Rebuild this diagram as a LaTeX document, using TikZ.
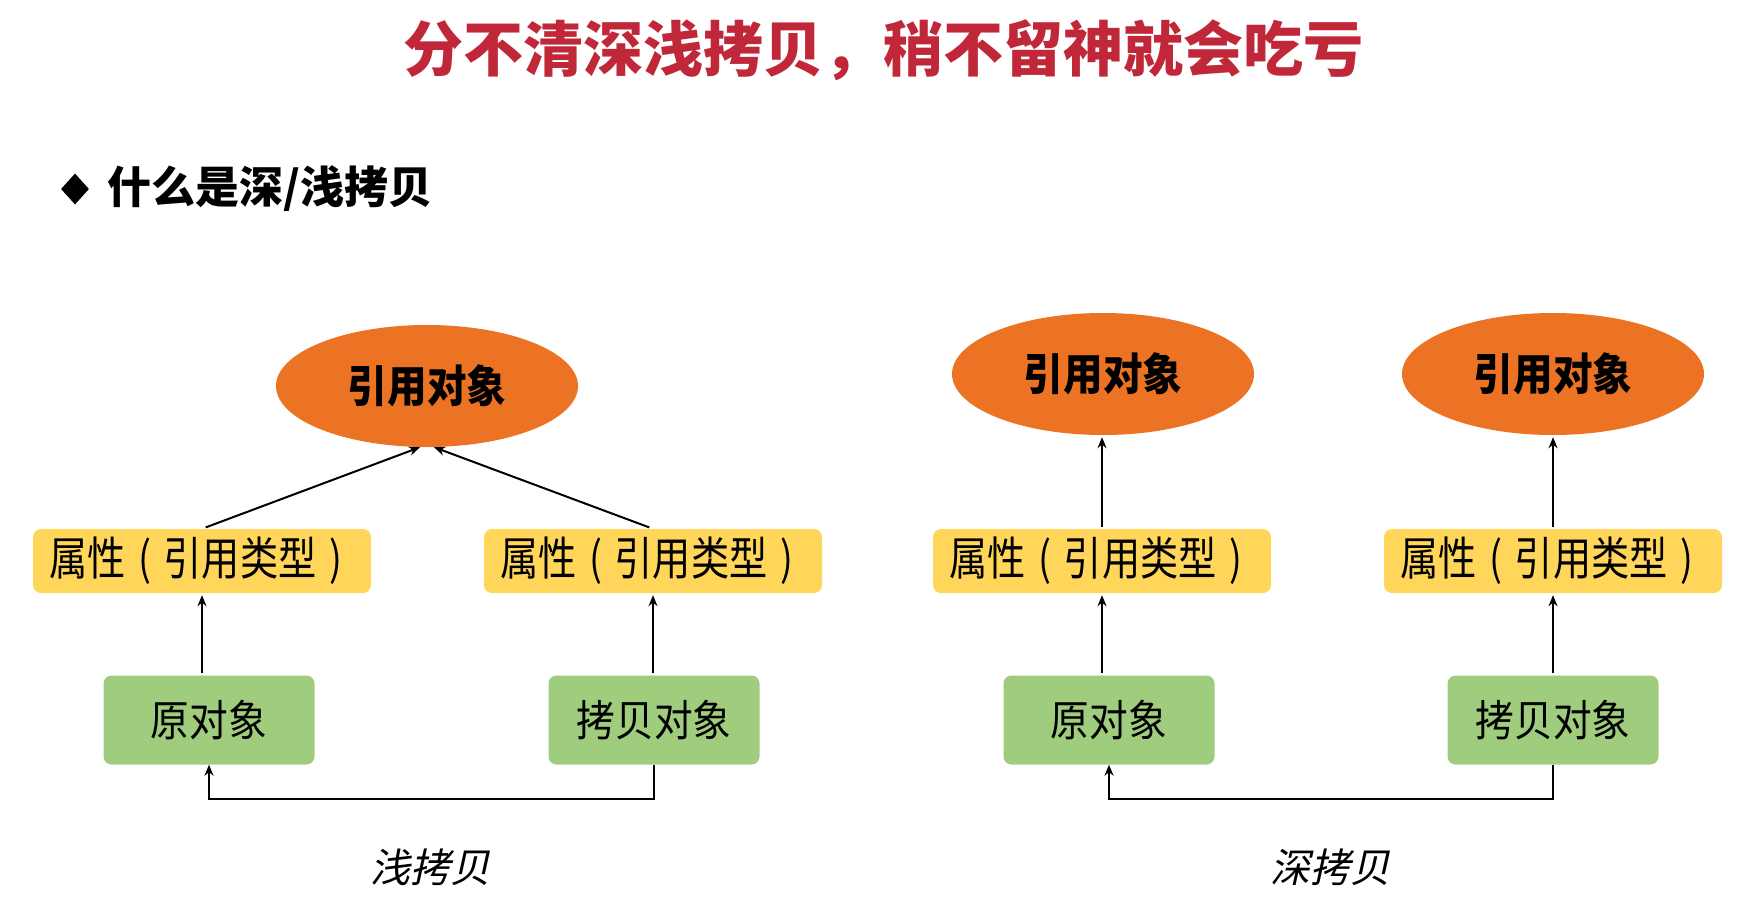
\documentclass[tikz,border=0pt]{standalone}
\usepackage{fontspec}
\setmainfont{Noto Sans CJK SC}
\newfontfamily\cjkslant{Noto Sans CJK SC}[FakeSlant=0.22]
\newfontfamily\cjknarrow{Noto Sans CJK SC}[FakeStretch=0.83]
\newfontfamily\cjkgreen{Noto Sans CJK SC}[FakeStretch=0.9]
\usetikzlibrary{shapes.geometric,arrows.meta}
\definecolor{orangec}{RGB}{235,115,35}
\definecolor{yellowc}{RGB}{255,214,90}
\definecolor{greenc}{RGB}{160,204,126}
\definecolor{titlered}{RGB}{192,40,58}
\newcommand{\cpar}[1]{\makebox[38pt][c]{#1}}
\tikzset{
  ell/.style={ellipse, fill=orangec, minimum width=302pt, minimum height=122pt, inner sep=0pt, font=\cjkgreen\bfseries\fontsize{44}{44}\selectfont},
  ybox/.style={rectangle, rounded corners=8pt, fill=yellowc, minimum width=338pt, minimum height=64pt, inner sep=0pt, font=\cjknarrow\fontsize{46}{46}\selectfont},
  gbox/.style={rectangle, rounded corners=8pt, fill=greenc, minimum width=211pt, minimum height=89pt, inner sep=0pt, font=\cjkgreen\fontsize{43}{43}\selectfont},
  arr/.style={line width=2pt, -{Stealth[length=11pt,width=9pt]}},
  capt/.style={font=\cjkslant\fontsize{40}{40}\selectfont}
}
\begin{document}
\begin{tikzpicture}[x=1pt,y=-1pt]
\useasboundingbox (0,0) rectangle (1742,905);
\node[text=titlered, font=\bfseries\fontsize{60}{60}\selectfont] (title) at (883,50) {分不清深浅拷贝，稍不留神就会吃亏};
\node[diamond, fill=black, minimum width=28pt, minimum height=31pt, inner sep=0pt] (bullet) at (75,189) {};
\node[anchor=west, inner sep=0pt, font=\bfseries\fontsize{44}{44}\selectfont] (sub) at (107,189) {什么是深/浅拷贝};
% left: shallow copy
\node[ell] (e1) at (427,386) {引用对象};
\node[ybox] (y1) at (202,561) {属性\cpar{(}引用类型\cpar{)}};
\node[ybox] (y2) at (653,561) {属性\cpar{(}引用类型\cpar{)}};
\node[gbox] (g1) at (209,720) {原对象};
\node[gbox] (g2) at (654,720) {拷贝对象};
\draw[arr, shorten <=4pt] (y1.north) -- ([xshift=-7pt]e1.south);
\draw[arr, shorten <=4pt] (y2.north) -- ([xshift=7pt]e1.south);
\draw[arr, shorten <=2pt, shorten >=2pt] (g1.north -| y1.south) -- (y1.south);
\draw[arr, shorten <=2pt, shorten >=2pt] (g2.north -| y2.south) -- (y2.south);
\draw[arr] (g2.south) -- ++(0,34) -| (g1.south);
\node[capt] (c1) at (430,867) {浅拷贝};
% right: deep copy
\node[ell] (e3) at (1103,374) {引用对象};
\node[ell] (e4) at (1553,374) {引用对象};
\node[ybox] (y3) at (1102,561) {属性\cpar{(}引用类型\cpar{)}};
\node[ybox] (y4) at (1553,561) {属性\cpar{(}引用类型\cpar{)}};
\node[gbox] (g3) at (1109,720) {原对象};
\node[gbox] (g4) at (1553,720) {拷贝对象};
\draw[arr, shorten <=2pt, shorten >=2pt] (y3.north) -- (y3.north |- e3.south);
\draw[arr, shorten <=2pt, shorten >=2pt] (y4.north) -- (y4.north |- e4.south);
\draw[arr, shorten <=2pt, shorten >=2pt] (g3.north -| y3.south) -- (y3.south);
\draw[arr, shorten <=2pt, shorten >=2pt] (g4.north -| y4.south) -- (y4.south);
\draw[arr] (g4.south) -- ++(0,34) -| (g3.south);
\node[capt] (c2) at (1330,867) {深拷贝};
\end{tikzpicture}
\end{document}
